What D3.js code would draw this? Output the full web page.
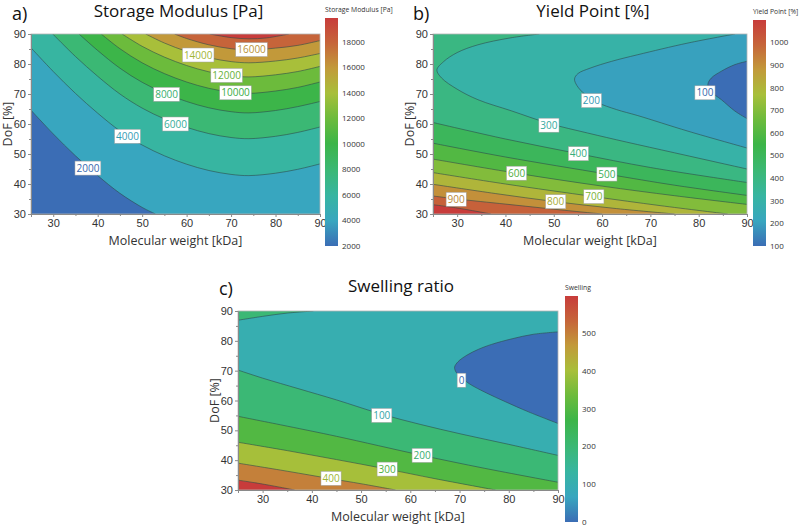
<!DOCTYPE html>
<html lang="en">
<head>
<meta charset="UTF-8">
<title>Contour plots</title>
<script src="https://cdn.jsdelivr.net/npm/d3@7/dist/d3.min.js"></script>
<style>
  body { margin: 0; background: #fff; }
  svg { font-family: "Open Sans", "Noto Sans", sans-serif; }
  .iso { fill: none; stroke: #2d4a4a; stroke-width: 0.7; stroke-opacity: 0.85; }
  .axis text { font-size: 10.5px; fill: #333; }
  .axis path, .axis line { stroke: #8a8a8a; }
  .frame { fill: none; stroke: #b5b5b5; stroke-width: 0.8; }
  .clabel rect { fill: #fff; stroke: #a0a0a0; stroke-width: 0.5; }
  .clabel text { font-size: 10px; }
</style>
</head>
<body>
<svg width="800" height="528"></svg>
<script>
// shared axes
var mwDomain = [25, 90]
var dofDomain = [30, 90]
var mwTicks = [30, 40, 50, 60, 70, 80, 90]
var mwMinor = [25, 35, 45, 55, 65, 75, 85]
var dofTicks = [30, 40, 50, 60, 70, 80, 90]
var dofMinor = [35, 45, 55, 65, 75, 85]

// a) storage modulus [Pa] - isolines as [MW, DoF] points
var modulusLevels = [2000, 4000, 6000, 8000, 10000, 12000, 14000, 16000, 18000]
var modulusRange = [2000, 19900]
var modulusBarTicks = [2000, 4000, 6000, 8000, 10000, 12000, 14000, 16000, 18000]
var modulusIsolines = [
  [2000, [[25,64.6],[30,56.7],[35,49.4],[40,42.8],[45,36.9],[50,32.2],[53,30]]],
  [4000, [[25,85.4],[30,77.5],[35,70.2],[40,63.6],[45,57.7],[50,53],[55,49.4],[60,46.6],[65,44.5],[70,43.2],[74,42.8],[80,43.6],[85,44.9],[90,46.7]]],
  [6000, [[29.9,90],[35,82.5],[40,75.9],[45,70],[50,65.3],[55,61.7],[60,58.9],[65,56.8],[70,55.5],[74,55.1],[80,55.9],[85,57.2],[90,59]]],
  [8000, [[35.8,90],[40,84.5],[45,78.6],[50,73.9],[55,70.3],[60,67.5],[65,65.4],[70,64.1],[74,63.7],[80,64.5],[85,65.8],[90,67.5]]],
  [10000, [[40.8,90],[45,85.1],[50,80.4],[55,76.8],[60,74],[65,71.9],[70,70.6],[74,70.2],[80,71],[85,72.2],[90,74]]],
  [12000, [[45.5,90],[50,85.9],[55,82.3],[60,79.5],[65,77.4],[70,76.1],[74,75.7],[80,76.4],[85,77.5],[90,79.2]]],
  [14000, [[50.8,90],[55,87],[60,84.2],[65,82.1],[70,80.8],[74,80.4],[80,81],[85,82],[90,83.5]]],
  [16000, [[57.3,90],[60,88.5],[65,86.4],[70,85.1],[74,84.7],[80,85.3],[85,86.2],[90,87.8]]],
  [18000, [[65.2,90],[70,88.8],[74,88.4],[78,88.7],[83,90]]]
]
var modulusLabels = [[2000,37.8,45.3],[4000,46.7,55.9],[6000,57.5,60],[8000,55.5,69.9],[10000,71,70.4],[12000,69,76.2],[14000,62.6,83],[16000,74.6,84.8]]

// b) yield point [%]
var yieldLevels = [100, 200, 300, 400, 500, 600, 700, 800, 900, 1000]
var yieldRange = [100, 1100]
var yieldBarTicks = [100, 200, 300, 400, 500, 600, 700, 800, 900, 1000]
var yieldIsolines = [
  [100, [[90,80.9],[87.5,79.8],[84.7,77.6],[82.6,75.3],[81.9,73.2],[82.4,71],[84.7,68.1],[87.5,64.3],[90,61.8]]],
  [200, [[87.5,90],[77.8,87],[67.4,83.1],[62,80.9],[57.5,78.6],[55,76.8],[54.3,75],[54.8,72.8],[56.5,69.8],[59,67.2],[63,64.8],[67.4,62.8],[77.8,57.6],[90,52]]],
  [300, [[47,90],[41,88.7],[34.3,86.4],[30,83.8],[27.2,80.8],[25.8,78],[26.8,75.3],[30,71.6],[34.3,68.1],[41.2,64.4],[49,60.2],[57,57],[65,54],[75,50.4],[90,45]]],
  [400, [[25,60.5],[40,55],[55.1,50.1],[70,45.5],[90,40.5]]],
  [500, [[25,53.6],[40,49],[61,43.3],[75,39.6],[90,36.2]]],
  [600, [[25,48.3],[42.3,43.6],[60,39.3],[75,36.1],[90,33.2]]],
  [700, [[25,43.8],[40,40],[58.3,35.8],[72,32.8],[86,30]]],
  [800, [[25,39.9],[38,36.8],[50.4,34.1],[63,31.8],[75,30]]],
  [900, [[25,36],[30,35],[40,33.3],[50,31.6],[60,30]]],
  [1000, [[25,33.1],[30,32],[37,30]]]
]
var yieldLabels = [[100,81.3,70.4],[200,57.8,67.8],[300,49,59.6],[400,55.1,50.1],[500,61,43.3],[600,42.3,43.6],[700,58.3,35.8],[800,50.4,34.1],[900,29.8,34.9]]

// c) swelling ratio
var swellLevels = [0, 100, 200, 300, 400, 500]
var swellRange = [0, 600]
var swellBarTicks = [0, 100, 200, 300, 400, 500]
var swellIsolines = [
  [0, [[90,83],[85,82.2],[80.7,80.7],[76.5,78.8],[73.9,77.2],[71.5,75.2],[69.7,73],[69,71.2],[69.3,69.5],[70.5,67.6],[72,65.6],[75.5,62.5],[79.3,59.6],[84,56.2],[90,52.3]]],
  [100, [[25,70.2],[30,67.5],[37.4,63.9],[45,60.2],[54.2,55.4],[62,52],[70.5,48.7],[80,45.3],[90,41.6]]],
  [100, [[40.3,90],[35,89.3],[30,88.2],[25,86.9]]],
  [200, [[25,54.7],[35,51.4],[45,48],[62.4,41.6],[75,37.3],[90,32.6]]],
  [300, [[25,46],[35,43.2],[45,40.2],[55.3,37],[65,33.8],[77.3,30]]],
  [400, [[25,39],[35,36.3],[43.8,33.8],[50,32.1],[57,30]]],
  [500, [[25,33.3],[30,32],[36.5,30]]]
]
var swellLabels = [[0,70.4,66.8],[100,54.2,55],[200,62.4,41.6],[300,55.3,37],[400,43.9,33.9]]

// colour map shared by all three panels (fraction of colour-bar range)
var cmapStops = [0, 0.11, 0.22, 0.33, 0.45, 0.56, 0.67, 0.78, 0.89, 1]
var cmapColors = ['#3b6db5', '#38a6bf', '#37b5a2', '#3bb876', '#3cb548', '#6dbb3c', '#a8bf3a', '#c29a3a', '#c6653a', '#c83c3b']
var cmap = d3.scaleLinear().domain(cmapStops).range(cmapColors).clamp(true)

var panels = [
  { key: 'a', letter: 'a)', title: 'Storage Modulus [Pa]', barTitle: 'Storage Modulus [Pa]', mode: 'up',
    levels: modulusLevels, range: modulusRange, barTicks: modulusBarTicks, lines: modulusIsolines, labels: modulusLabels,
    left: 31, top: 34, width: 289, height: 180, letterX: 12, titleY: 17,
    bar: { x: 325, y: 18, w: 13, h: 228 } },
  { key: 'b', letter: 'b)', title: 'Yield Point [%]', barTitle: 'Yield Point [%]', mode: 'down',
    levels: yieldLevels, range: yieldRange, barTicks: yieldBarTicks, lines: yieldIsolines, labels: yieldLabels,
    left: 433, top: 34, width: 314, height: 180, letterX: 413, titleY: 17,
    bar: { x: 753, y: 20, w: 13, h: 226 } },
  { key: 'c', letter: 'c)', title: 'Swelling ratio', barTitle: 'Swelling', mode: 'down',
    levels: swellLevels, range: swellRange, barTicks: swellBarTicks, lines: swellIsolines, labels: swellLabels,
    left: 238, top: 311, width: 320, height: 179, letterX: 219, titleY: 292,
    bar: { x: 565, y: 296, w: 13, h: 226 } }
]

var svg = d3.select('svg')
var defs = svg.append('defs')

// gradient for the colour bars
var grad = defs.append('linearGradient').attr('id', 'cbar')
  .attr('x1', 0).attr('y1', 1).attr('x2', 0).attr('y2', 0)
grad.selectAll('stop').data(cmapStops).join('stop')
  .attr('offset', d => d)
  .attr('stop-color', (d, i) => cmapColors[i])

// position of a border point along the frame, counter-clockwise from bottom-left
function perimeter(p) {
  var L = mwDomain[0], R = mwDomain[1], B = dofDomain[0], T = dofDomain[1], e = 0.3
  if (Math.abs(p[1] - B) < e) return p[0] - L
  if (Math.abs(p[0] - R) < e) return (R - L) + (p[1] - B)
  if (Math.abs(p[1] - T) < e) return (R - L) + (T - B) + (R - p[0])
  return 2 * (R - L) + (T - B) + (T - p[1])
}

function regionPath(curves, x, y) {
  var L = mwDomain[0], R = mwDomain[1], B = dofDomain[0], T = dofDomain[1]
  var P = 2 * (R - L) + 2 * (T - B)
  var corners = [[L, B], [R, B], [R, T], [L, T]].map(c => ({ s: perimeter(c), p: c }))
  var line = d3.line().x(d => x(d[0])).y(d => y(d[1])).curve(d3.curveCatmullRom.alpha(0.5))
  var path = line(curves[0])
  var cur = 0
  for (var guard = 0; guard < 10; guard++) {
    var end = perimeter(curves[cur][curves[cur].length - 1])
    var best = 0, bestD = Infinity
    curves.forEach((c, i) => {
      var d = (perimeter(c[0]) - end + P) % P
      if (d < bestD) { bestD = d; best = i }
    })
    corners.map(c => ({ d: (c.s - end + P) % P, p: c.p }))
      .filter(c => c.d > 0 && c.d < bestD)
      .sort((a, b) => a.d - b.d)
      .forEach(c => { path += 'L' + x(c.p[0]) + ',' + y(c.p[1]) })
    if (best === 0) break
    path += line(curves[best]).replace(/^M/, 'L')
    cur = best
  }
  return path + 'Z'
}

function drawPanel(p) {
  var x = d3.scaleLinear().domain(mwDomain).range([p.left, p.left + p.width])
  var y = d3.scaleLinear().domain(dofDomain).range([p.top + p.height, p.top])
  var col = v => cmap((v - p.range[0]) / (p.range[1] - p.range[0]))
  var g = svg.append('g')

  defs.append('clipPath').attr('id', 'clip-' + p.key)
    .append('rect').attr('x', p.left).attr('y', p.top).attr('width', p.width).attr('height', p.height)
  var plot = g.append('g').attr('clip-path', 'url(#clip-' + p.key + ')')

  // filled bands, painted level by level
  plot.append('rect')
    .attr('x', p.left).attr('y', p.top).attr('width', p.width).attr('height', p.height)
    .attr('fill', p.mode === 'up' ? col(p.levels[0]) : col(p.range[1]))
  var order = p.mode === 'up' ? p.levels : p.levels.slice().reverse()
  order.forEach(L => {
    var curves = p.lines.filter(d => d[0] === L).map(d => d[1])
    var i = p.levels.indexOf(L)
    var v = p.mode === 'up' ? (i + 1 < p.levels.length ? p.levels[i + 1] : p.range[1]) : L
    plot.append('path').attr('d', regionPath(curves, x, y)).attr('fill', col(v))
  })

  // isolines
  var line = d3.line().x(d => x(d[0])).y(d => y(d[1])).curve(d3.curveCatmullRom.alpha(0.5))
  plot.selectAll('path.iso').data(p.lines).join('path')
    .attr('class', 'iso')
    .attr('d', d => line(d[1]))

  g.append('rect').attr('class', 'frame')
    .attr('x', p.left).attr('y', p.top).attr('width', p.width).attr('height', p.height)

  // axes
  g.append('g').attr('class', 'axis').attr('transform', 'translate(0,' + (p.top + p.height) + ')')
    .call(d3.axisBottom(x).tickValues(mwTicks).tickSize(3).tickPadding(2).tickFormat(d3.format('d')))
  g.append('g').attr('class', 'axis').attr('transform', 'translate(0,' + (p.top + p.height) + ')')
    .call(d3.axisBottom(x).tickValues(mwMinor).tickSize(2).tickFormat(''))
    .select('.domain').remove()
  g.append('g').attr('class', 'axis').attr('transform', 'translate(' + p.left + ',0)')
    .call(d3.axisLeft(y).tickValues(dofTicks).tickSize(3).tickPadding(2).tickFormat(d3.format('d')))
  g.append('g').attr('class', 'axis').attr('transform', 'translate(' + p.left + ',0)')
    .call(d3.axisLeft(y).tickValues(dofMinor).tickSize(2).tickFormat(''))
    .select('.domain').remove()
  g.selectAll('.axis text').style('font-size', '11px').attr('fill', '#333')

  g.append('text')
    .attr('x', p.left + p.width / 2).attr('y', p.top + p.height + 31)
    .attr('text-anchor', 'middle').style('font-size', '12.5px').attr('fill', '#333')
    .text('Molecular weight [kDa]')
  g.append('text')
    .attr('transform', 'translate(' + (p.left - 19) + ',' + (p.top + p.height / 2) + ') rotate(-90)')
    .attr('text-anchor', 'middle').style('font-size', '12.5px').attr('fill', '#333')
    .text('DoF [%]')

  // titles
  g.append('text').attr('x', p.letterX).attr('y', p.titleY + 3)
    .style('font-size', '18px').attr('fill', '#111').text(p.letter)
  g.append('text').attr('x', p.left + p.width / 2 + 3).attr('y', p.titleY)
    .attr('text-anchor', 'middle').style('font-size', '17px').attr('fill', '#111').text(p.title)

  // contour labels
  var lab = g.selectAll('g.clabel').data(p.labels).join('g')
    .attr('class', 'clabel')
    .attr('transform', d => 'translate(' + x(d[1]) + ',' + y(d[2]) + ')')
  lab.append('text')
    .attr('text-anchor', 'middle').attr('dy', '0.36em')
    .attr('fill', d => d3.color(col(d[0])).darker(0.15))
    .text(d => d[0])
  lab.insert('rect', 'text').each(function (d) {
    var w = this.parentNode.querySelector('text').getComputedTextLength() + 3
    d3.select(this).attr('x', -w / 2).attr('y', -7).attr('width', w).attr('height', 14)
  })

  // colour bar
  var by = d3.scaleLinear().domain(p.range).range([p.bar.y + p.bar.h, p.bar.y])
  g.append('rect').attr('x', p.bar.x).attr('y', p.bar.y).attr('width', p.bar.w).attr('height', p.bar.h)
    .attr('fill', 'url(#cbar)')
  g.selectAll('text.btick').data(p.barTicks).join('text')
    .attr('class', 'btick')
    .attr('x', p.bar.x + p.bar.w + 4).attr('y', d => by(d)).attr('dy', '0.35em')
    .style('font-size', '8px').attr('fill', '#333')
    .text(d => d)
  g.append('text').attr('x', p.bar.x).attr('y', p.bar.y - 6)
    .style('font-size', '6.8px').attr('fill', '#333').text(p.barTitle)
}

panels.forEach(drawPanel)
</script>
</body>
</html>
